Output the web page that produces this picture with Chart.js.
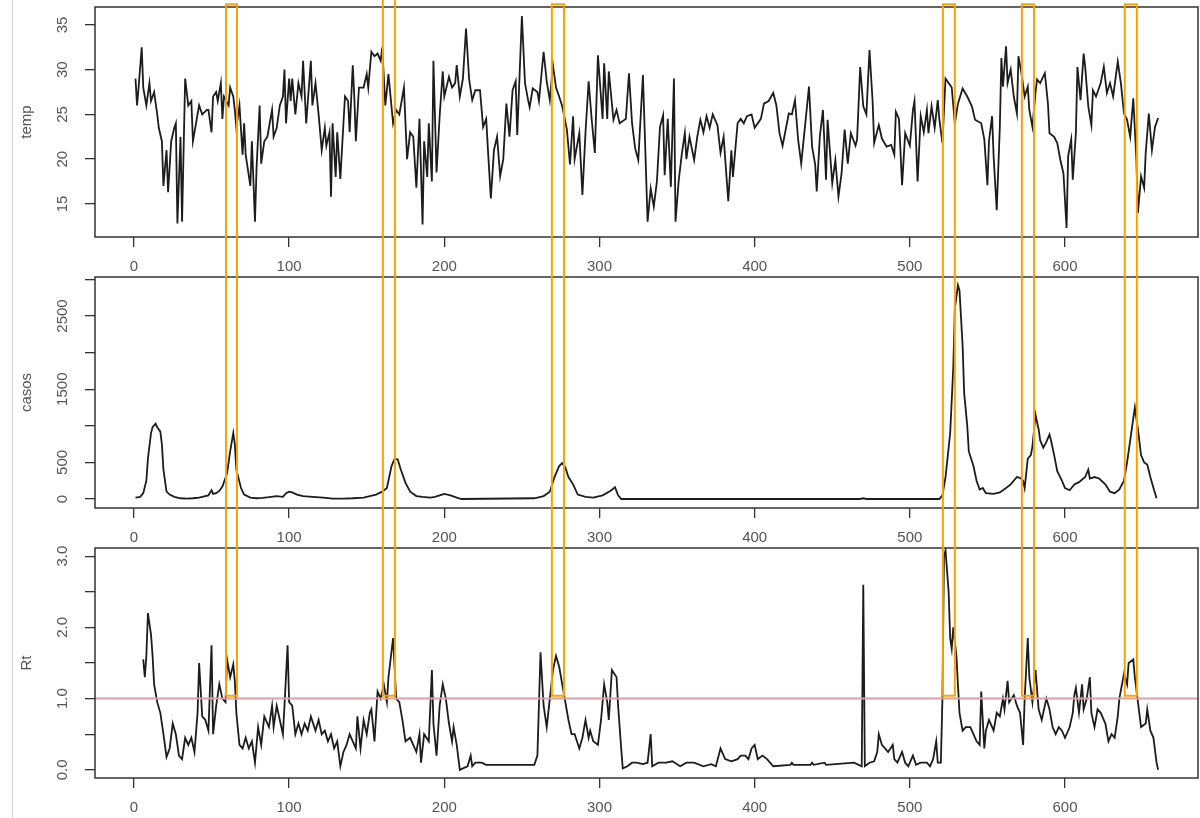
<!DOCTYPE html>
<html>
<head>
<meta charset="utf-8">
<script src="https://cdn.jsdelivr.net/npm/chart.js@4.4.1/dist/chart.umd.min.js"></script>
<style>
body { margin: 0; background: #fff; }
#wrap { position: relative; width: 1200px; height: 818px; overflow: hidden; background: #fff; }
#wrap canvas { position: absolute; left: 0; top: 0; }
#edge { position: absolute; left: 12px; top: 0; width: 1px; height: 818px; background: #cfcfcf; }
</style>
</head>
<body>
<div id="wrap">
  <div id="edge"></div>
  <canvas id="c1" width="1200" height="818"></canvas>
  <canvas id="c2" width="1200" height="818"></canvas>
  <canvas id="c3" width="1200" height="818"></canvas>
</div>
<script>
// values: [day, value]
const tempPoints = [[1,29],[2,26],[3,28],[5,32.5],[6,28],[8,26],[10,28.5],[11,26.5],[13,27.5],[15,25],[16,23.5],[18,22],[19,17],[21,21],[22,16.3],[24,22],[26,23.5],[27,24],[28,12.8],[30,22.5],[31,13],[33,29],[35,26],[37,26.5],[38,22],[40,24],[42,26],[44,25],[47,25.5],[48,25.5],[50,23],[51,27],[53,27.5],[54,26.5],[56,28.5],[57,24.5],[58,27],[61,26],[62,28],[64,27],[65,25.5],[66,23.5],[68,26],[70,20.5],[71,24],[72,20.5],[75,17],[76,22],[78,13],[79,19],[81,26],[82,19.5],[84,22],[86,22.5],[89,25.5],[90,22.5],[92,23.5],[94,26],[96,27],[97,30],[98,24],[100,29],[101,26.5],[102,29],[104,25],[106,28.5],[108,27],[109,31],[111,24],[114,31],[115,26],[117,28.5],[119,25],[121,21],[123,23.5],[124,21.5],[126,23],[127,15.8],[128,24],[130,18],[131,23],[133,17.8],[135,24],[136,27],[138,26.5],[139,23],[141,30.5],[142,27],[143,22],[145,28],[148,28],[150,29.5],[151,28],[153,32],[155,31.5],[157,31.8],[159,31],[160,32.5],[162,26],[164,29.5],[167,24],[169,25.5],[171,25],[174,28],[176,20],[178,23],[180,22.5],[182,16.8],[184,24.5],[186,12.7],[187,22],[189,18],[190,24],[192,17.5],[193,31],[195,18.5],[197,24.8],[199,29.8],[200,27],[203,29.2],[205,28],[207,28.5],[208,30.5],[210,27],[212,29],[214,34.6],[216,28.9],[218,26.6],[220,27.7],[223,27.7],[225,23.6],[227,24.5],[228,21.4],[230,15.6],[232,21],[234,22.5],[236,18.1],[238,20],[240,26.2],[242,22.5],[244,27.7],[246,28.7],[247,22.7],[250,36],[252,28.5],[254,26.6],[255,25.8],[257,27.9],[260,27.5],[261,26.5],[264,32],[266,28.7],[268,26.6],[270,30.5],[272,28],[274,27],[276,25.9],[279,23.3],[281,19.4],[283,24.8],[284,20],[287,22.9],[289,16],[291,23],[293,28.7],[295,24.4],[297,20.7],[299,31.6],[302,24.5],[303,30.7],[305,24.5],[306,29.8],[309,24.4],[311,25.5],[313,24],[317,24.5],[319,29.6],[321,24],[323,21.2],[325,19.9],[328,29.4],[331,13],[333,16.7],[335,14.7],[337,17.5],[339,23.6],[341,24.9],[342,18.2],[344,24.5],[346,16.9],[348,29],[349,13],[351,17.5],[353,20.5],[355,22.9],[356,20],[358,22.5],[361,19.9],[363,22.5],[365,24.4],[367,23],[369,24.8],[371,23.5],[373,25],[376,23.8],[378,20.7],[380,22.5],[383,15.3],[385,21],[386,18],[389,24],[391,24.5],[393,24],[395,24.8],[398,25],[400,23.5],[404,24.5],[406,26.2],[409,26.5],[412,27.4],[414,26],[416,22.9],[418,21.5],[422,25.1],[424,25],[426,26.6],[428,22.2],[430,19.5],[432,22.9],[435,28.1],[437,21.4],[439,19.4],[440,16.4],[442,22.5],[444,25.5],[446,17.7],[447,24.4],[450,17.3],[452,19.9],[454,15.8],[456,18.4],[458,23.3],[460,19.5],[462,22.9],[465,21.5],[466,22.2],[468,30.3],[470,25.9],[472,25],[474,32.2],[476,26.5],[477,21.8],[480,23.8],[482,22.3],[485,21.4],[488,21.6],[490,20.5],[491,25.3],[493,24.5],[495,17.1],[497,22.9],[500,21.5],[502,25.5],[503,26.5],[505,17.5],[507,24.8],[509,23],[511,25.5],[512,22.9],[514,25.9],[516,23.5],[518,26.6],[519,24.5],[521,21.8],[523,29],[525,28.5],[527,28],[529,24],[531,26.2],[534,27.9],[537,27],[540,25.9],[542,24.4],[546,24],[548,22.2],[550,17.1],[551,22],[553,24.8],[554,20.3],[556,14.3],[558,23.6],[559,31.3],[560,28.1],[562,32.6],[563,28.5],[565,30],[567,27],[569,25.1],[570,31.5],[572,29.5],[574,27],[576,28.1],[577,25.5],[579,23.6],[581,27.5],[582,28.9],[584,28.5],[587,29.6],[589,26.2],[590,22.9],[593,22.5],[595,21.8],[597,19.9],[599,18.4],[601,12.3],[602,20.3],[604,22.2],[605,17.7],[607,22.9],[608,30.3],[610,26.6],[612,31.8],[613,30.3],[615,25.9],[617,23.8],[618,27.7],[620,27],[623,28.5],[625,30.3],[627,27.4],[629,28.5],[631,27],[634,30.9],[636,28.5],[638,25.1],[640,24.4],[642,22.5],[644,26.8],[646,19.9],[647,14],[649,18.1],[651,16.8],[652,20.7],[654,25.1],[656,21],[658,23.6],[660,24.6]];

const casosPoints = [[1,20],[4,30],[6,80],[8,250],[9,550],[11,900],[12,980],[14,1030],[15,980],[17,920],[18,750],[19,400],[21,100],[23,60],[26,30],[30,10],[34,5],[38,10],[42,20],[46,40],[48,50],[50,120],[51,70],[53,80],[55,110],[57,170],[60,350],[62,650],[64,900],[65,750],[66,400],[69,150],[71,60],[75,20],[79,10],[83,15],[87,25],[92,40],[96,30],[98,80],[100,100],[102,90],[105,60],[109,40],[115,30],[122,20],[128,5],[135,5],[141,10],[148,20],[152,40],[156,60],[160,100],[163,150],[166,450],[168,550],[170,540],[172,400],[175,220],[178,100],[182,40],[186,30],[191,20],[194,30],[197,50],[200,70],[204,50],[208,20],[211,0],[258,10],[264,40],[268,100],[271,300],[274,450],[276,490],[278,430],[280,300],[283,200],[286,60],[291,30],[296,20],[302,50],[307,110],[310,160],[312,50],[314,0],[468,0],[470,10],[472,0],[519,0],[521,50],[523,300],[526,900],[528,1800],[529,2600],[531,2920],[532,2850],[534,2100],[535,1450],[537,1000],[538,650],[541,450],[543,250],[545,130],[547,150],[549,80],[554,70],[558,90],[562,150],[565,200],[569,300],[571,290],[573,250],[574,150],[576,550],[578,600],[579,720],[581,1150],[583,950],[584,800],[586,700],[588,780],[590,880],[591,800],[593,600],[595,380],[598,250],[600,150],[603,120],[606,200],[609,230],[613,300],[615,400],[616,280],[619,300],[622,280],[626,200],[629,100],[632,80],[635,130],[638,250],[640,500],[643,950],[645,1250],[647,950],[649,600],[651,500],[653,470],[655,300],[657,150],[659,10]];

const rtPoints = [[6,1.55],[7,1.3],[8,1.6],[9,2.2],[11,1.9],[12,1.6],[13,1.2],[15,0.95],[17,0.8],[19,0.5],[21,0.18],[23,0.3],[25,0.65],[27,0.5],[29,0.2],[31,0.15],[33,0.45],[35,0.35],[37,0.45],[39,0.25],[41,0.8],[42,1.5],[44,0.75],[46,0.7],[48,0.55],[50,1.75],[51,0.5],[53,0.9],[55,1.2],[57,1.0],[59,0.95],[60,1.55],[62,1.3],[64,1.48],[65,1.25],[66,0.8],[68,0.35],[70,0.3],[72,0.45],[74,0.3],[76,0.4],[78,0.1],[80,0.6],[82,0.35],[84,0.75],[87,0.6],[89,0.9],[90,0.6],[92,0.9],[94,0.7],[96,0.5],[97,0.9],[99,1.75],[100,0.95],[102,0.9],[104,0.5],[106,0.65],[108,0.5],[110,0.65],[112,0.55],[114,0.75],[117,0.55],[119,0.7],[121,0.5],[123,0.55],[125,0.4],[127,0.5],[129,0.3],[131,0.4],[133,0.05],[135,0.25],[137,0.35],[139,0.5],[141,0.4],[143,0.3],[144,0.75],[146,0.3],[148,0.7],[150,0.5],[152,0.8],[153,0.85],[155,0.4],[157,1.1],[159,1.0],[161,1.2],[163,0.95],[164,1.3],[167,1.85],[169,1.0],[171,0.95],[173,0.7],[175,0.4],[178,0.45],[180,0.35],[182,0.25],[184,0.5],[185,0.1],[187,0.5],[190,0.4],[192,1.4],[193,0.65],[195,0.2],[197,0.9],[199,1.2],[201,1.0],[203,0.65],[205,0.4],[206,0.6],[208,0.35],[210,0.0],[212,0.02],[215,0.05],[217,0.2],[218,0.05],[220,0.1],[222,0.1],[224,0.1],[227,0.07],[258,0.07],[260,0.2],[262,1.65],[264,0.9],[266,0.6],[268,1.0],[270,1.4],[272,1.6],[274,1.45],[276,1.2],[278,0.95],[280,0.7],[282,0.5],[284,0.5],[287,0.3],[289,0.45],[291,0.7],[293,0.45],[294,0.55],[296,0.4],[299,0.35],[301,0.7],[303,1.2],[305,0.95],[306,0.7],[308,1.4],[311,1.3],[312,0.9],[314,0.3],[315,0.02],[318,0.05],[321,0.1],[324,0.1],[328,0.08],[331,0.1],[333,0.5],[334,0.05],[338,0.1],[343,0.1],[347,0.12],[352,0.05],[356,0.1],[361,0.1],[367,0.05],[372,0.08],[375,0.05],[378,0.3],[381,0.15],[385,0.12],[389,0.15],[391,0.2],[394,0.2],[396,0.15],[398,0.3],[400,0.35],[402,0.15],[405,0.2],[408,0.15],[412,0.05],[423,0.07],[424,0.1],[425,0.07],[436,0.07],[437,0.1],[438,0.07],[445,0.1],[446,0.07],[464,0.1],[469,0.05],[470,2.6],[471,0.05],[474,0.1],[477,0.12],[479,0.25],[480,0.5],[482,0.35],[484,0.3],[486,0.25],[489,0.35],[490,0.15],[492,0.1],[495,0.25],[497,0.1],[499,0.05],[502,0.2],[504,0.07],[507,0.1],[511,0.1],[513,0.05],[515,0.15],[517,0.4],[518,0.1],[520,0.1],[521,1.0],[522,3.0],[523,3.08],[525,2.5],[526,1.85],[527,1.7],[528,2.0],[530,1.6],[531,1.2],[532,0.8],[534,0.55],[536,0.6],[539,0.6],[541,0.5],[543,0.4],[545,0.35],[546,1.1],[548,0.3],[549,0.55],[551,0.7],[554,0.55],[556,0.8],[558,0.75],[560,1.0],[561,0.85],[563,1.25],[564,0.95],[567,1.05],[569,0.9],[571,0.8],[573,0.35],[574,1.0],[576,1.85],[577,1.3],[579,0.95],[581,1.4],[583,0.85],[585,0.7],[588,1.0],[590,0.85],[592,0.6],[594,0.5],[596,0.6],[598,0.55],[600,0.45],[603,0.6],[605,0.8],[606,1.05],[607,1.15],[609,0.8],[611,1.2],[612,0.85],[614,1.0],[616,1.3],[617,0.8],[619,0.6],[621,0.85],[623,0.8],[626,0.65],[628,0.4],[630,0.5],[632,0.45],[634,0.75],[635,1.0],[638,1.35],[640,1.2],[641,1.5],[644,1.55],[645,1.3],[647,0.95],[649,0.6],[652,0.65],[653,0.85],[655,0.55],[657,0.45],[659,0.1],[660,0.0]];

const xTicks = [0, 100, 200, 300, 400, 500, 600];
const tempTicks = [15, 20, 25, 30, 35];
const tempTickLabels = ['15', '20', '25', '30', '35'];
const casosTicks = [0, 500, 1000, 1500, 2000, 2500, 3000];
const casosLabelVals = [0, 500, 1500, 2500];
const casosTickLabels = ['0', '500', '1500', '2500'];
const rtTicks = [0, 0.5, 1, 1.5, 2, 2.5, 3];
const rtLabelVals = [0, 1, 2, 3];
const rtTickLabels = ['0.0', '1.0', '2.0', '3.0'];

// highlighted windows (days), top in temp units, bottom in Rt units
const boxStart = [59.3, 160.4, 269.3, 521.3, 572.2, 638.5];
const boxEnd = [66.4, 168.2, 277.1, 529.0, 580.0, 646.3];
const boxTop = [37.3, 38.2, 37.3, 37.3, 37.3, 37.3];
const boxBottom = 1.04;
const rtRef = 1;

const FONT = 'Liberation Sans, Arial, sans-serif';
const AXIS = '#333';
const LABEL = '#555';

function framePlugin(labelVals, labelText, title) {
    return {
        id: 'frame',
        afterDraw(chart) {
            const ctx = chart.ctx;
            const a = chart.chartArea;
            const y = chart.scales.y;
            ctx.save();
            ctx.strokeStyle = AXIS;
            ctx.lineWidth = 1.5;
            ctx.strokeRect(a.left, a.top, a.right - a.left, a.bottom - a.top);
            ctx.fillStyle = LABEL;
            ctx.font = '15px ' + FONT;
            ctx.textAlign = 'center';
            ctx.textBaseline = 'middle';
            labelVals.forEach((v, i) => {
                ctx.save();
                ctx.translate(63, y.getPixelForValue(v));
                ctx.rotate(-Math.PI / 2);
                ctx.fillText(labelText[i], 0, 0);
                ctx.restore();
            });
            ctx.translate(27, (a.top + a.bottom) / 2);
            ctx.rotate(-Math.PI / 2);
            ctx.fillText(title, 0, 0);
            ctx.restore();
        }
    };
}

function panel(id, points, yMin, yMax, yTicks, labelVals, labelText, title, padTop, padBottom, extra) {
    return new Chart(document.getElementById(id), {
        type: 'line',
        data: {
            datasets: [{
                data: points.map(p => ({ x: p[0], y: p[1] })),
                borderColor: '#1c1c1c',
                borderWidth: 1.8,
                pointRadius: 0,
                tension: 0,
                fill: false,
            }],
        },
        options: {
            responsive: false,
            animation: false,
            events: [],
            layout: { padding: { top: padTop, bottom: padBottom, left: 0, right: 2 } },
            plugins: { legend: { display: false }, tooltip: { enabled: false } },
            scales: {
                x: {
                    type: 'linear',
                    min: -25.1,
                    max: 685.7,
                    afterBuildTicks: s => { s.ticks = xTicks.map(v => ({ value: v })); },
                    afterFit: s => { s.height = 40; },
                    grid: { drawOnChartArea: false, tickLength: 10, color: AXIS, lineWidth: 1.3 },
                    border: { display: false },
                    ticks: { autoSkip: false, maxRotation: 0, color: LABEL, font: { family: FONT, size: 15 }, padding: 11 },
                },
                y: {
                    min: yMin,
                    max: yMax,
                    afterBuildTicks: s => { s.ticks = yTicks.map(v => ({ value: v })); },
                    afterFit: s => { s.width = 95; },
                    grid: { drawOnChartArea: false, tickLength: 10, color: AXIS, lineWidth: 1.3 },
                    border: { display: false },
                    ticks: { display: false },
                },
            },
        },
        plugins: [framePlugin(labelVals, labelText, title)].concat(extra || []),
    });
}

const chart1 = panel('c1', tempPoints, 11.3, 37.0, tempTicks, tempTicks, tempTickLabels, 'temp', 7, 541);
const chart2 = panel('c2', casosPoints, -123, 3033, casosTicks, casosLabelVals, casosTickLabels, 'casos', 277, 270);

const refLine = {
    id: 'refLine',
    afterDatasetsDraw(chart) {
        const ctx = chart.ctx;
        const a = chart.chartArea;
        const y = chart.scales.y.getPixelForValue(rtRef);
        ctx.save();
        ctx.strokeStyle = '#d6a2aa';
        ctx.lineWidth = 2;
        ctx.beginPath();
        ctx.moveTo(a.left, y);
        ctx.lineTo(a.right, y);
        ctx.stroke();
        ctx.restore();
    }
};

const boxes = {
    id: 'boxes',
    afterDraw(chart) {
        const ctx = chart.ctx;
        const x = chart.scales.x;
        const yBottom = chart.scales.y.getPixelForValue(boxBottom);
        ctx.save();
        ctx.strokeStyle = '#ffa000';
        ctx.lineWidth = 2;
        boxStart.forEach((s, i) => {
            const l = x.getPixelForValue(s);
            const r = x.getPixelForValue(boxEnd[i]);
            const t = chart1.scales.y.getPixelForValue(boxTop[i]);
            ctx.strokeRect(l, t, r - l, yBottom - t);
        });
        ctx.restore();
    }
};

const chart3 = panel('c3', rtPoints, -0.115, 3.115, rtTicks, rtLabelVals, rtTickLabels, 'Rt', 548, 0, [refLine, boxes]);
</script>
</body>
</html>
